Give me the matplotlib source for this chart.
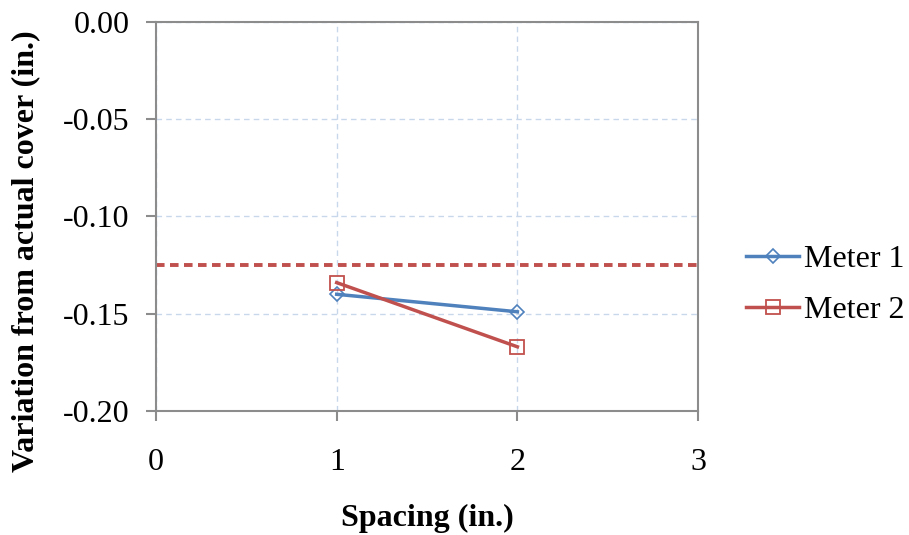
import matplotlib
matplotlib.use("Agg")
import matplotlib.pyplot as plt

spacing = [1, 2]
meter1 = [-0.140, -0.149]
meter2 = [-0.134, -0.167]
limit = -0.125

plt.rcParams['font.family'] = ['Liberation Serif', 'DejaVu Serif']

fig = plt.figure(figsize=(9.09, 5.35), dpi=100)
ax = fig.add_axes([0.1716, 0.2318, 0.5964, 0.7271])

ax.axhline(limit, color='#C0504D', lw=2.8, ls=(0, (2.2, 1.4)), zorder=2)
ax.plot(spacing, meter1, color='#4F81BD', lw=2.5, marker='D', ms=7,
        mfc='none', mec='#4F81BD', mew=1.2, label='Meter 1', zorder=3)
ax.plot(spacing, meter2, color='#C0504D', lw=2.5, marker='s', ms=10,
        mfc='none', mec='#C0504D', mew=1.3, label='Meter 2', zorder=4)

ax.set_xlim(0, 3)
ax.set_ylim(-0.20, 0.0)
ax.set_xticks([0, 1, 2, 3])
ax.set_yticks([-0.20, -0.15, -0.10, -0.05, 0.00])
ax.set_yticklabels(['-0.20', '-0.15', '-0.10', '-0.05', '0.00'])

ax.grid(True, color='#C9D7EB', ls=(0, (4, 3)), lw=1.0)
ax.set_axisbelow(True)
for s in ax.spines.values():
    s.set_color('#8C8C8C')
    s.set_linewidth(1.5)
ax.tick_params(axis='both', direction='out', length=7, width=1.5,
               color='#8C8C8C', labelsize=23)
ax.tick_params(axis='x', pad=20)
ax.tick_params(axis='y', pad=12)

ax.set_xlabel('Spacing (in.)', fontsize=23, fontweight='bold', labelpad=19)
ax.set_ylabel('Variation from actual cover (in.)', fontsize=23,
              fontweight='bold')
ax.yaxis.set_label_coords(-0.214, 0.411)

ax.legend(loc='center left', bbox_to_anchor=(1.036, 0.324), frameon=False,
          fontsize=23, handlelength=1.65, handletextpad=0.15,
          labelspacing=0.66)

fig.savefig('out.png', dpi=100)
